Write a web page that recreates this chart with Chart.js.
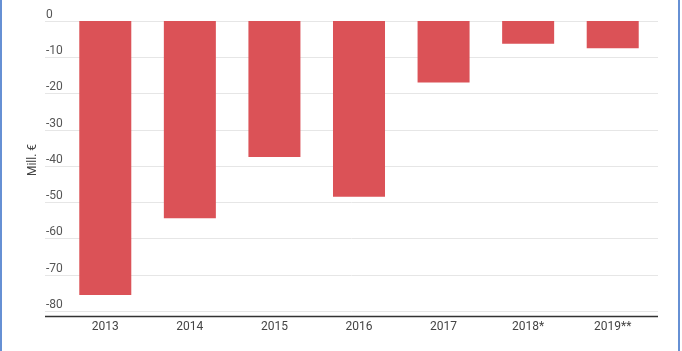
<!DOCTYPE html>
<html>
<head>
<meta charset="utf-8">
<script src="https://cdn.jsdelivr.net/npm/chart.js@4/dist/chart.umd.min.js"></script>
<style>
  html, body { margin: 0; padding: 0; background: #fff; }
  #wrap { position: relative; width: 682px; height: 351px; }
</style>
</head>
<body>
<div id="wrap"><canvas id="cv"></canvas></div>
<script>
// ── Data ─────────────────────────────────────────────
const years  = ['2013', '2014', '2015', '2016', '2017', '2018*', '2019**'];
const values = [-75.6, -54.4, -37.5, -48.5, -17.0, -6.3, -7.5];
const yTicks = [0, -10, -20, -30, -40, -50, -60, -70, -80];
const yTitle = 'Mill. €';

const FONT = 'Roboto, "Noto Sans", sans-serif';
const GRID_L = 45, GRID_R = 658;

// gridlines, y labels, axis line, frame – drawn across the wider grid band
const decor = {
  id: 'decor',
  beforeDatasetsDraw(chart) {
    const { ctx, scales: { y } } = chart;
    ctx.save();
    ctx.strokeStyle = '#e6e6e6';
    ctx.lineWidth = 1;
    ctx.fillStyle = '#555';
    ctx.font = '12px ' + FONT;
    ctx.textAlign = 'left';
    ctx.textBaseline = 'middle';
    yTicks.forEach(v => {
      const py = Math.round(y.getPixelForValue(v)) + 0.5;
      ctx.beginPath(); ctx.moveTo(GRID_L, py); ctx.lineTo(GRID_R, py); ctx.stroke();
      ctx.fillText(String(v), GRID_L + 1, py - 7);
    });
    // y title
    ctx.save();
    ctx.translate(33, 160);
    ctx.rotate(-Math.PI / 2);
    ctx.textAlign = 'center';
    ctx.fillStyle = '#444';
    ctx.font = '12px ' + FONT;
    ctx.fillText(yTitle, 0, 0);
    ctx.restore();
    ctx.restore();
  },
  afterDraw(chart) {
    const { ctx, chartArea: a } = chart;
    ctx.save();
    ctx.strokeStyle = '#333';
    ctx.lineWidth = 1.5;
    ctx.beginPath(); ctx.moveTo(GRID_L, a.bottom + 0.5); ctx.lineTo(GRID_R, a.bottom + 0.5); ctx.stroke();
    // blue frame edges
    ctx.fillStyle = '#6690d4';
    ctx.fillRect(0, 0, 2, chart.height);
    ctx.fillRect(678, 0, 2, chart.height);
    ctx.restore();
  },
};

new Chart(document.getElementById('cv'), {
  type: 'bar',
  data: {
    labels: years,
    datasets: [{
      data: values,
      backgroundColor: '#db5257',
      borderWidth: 0,
      categoryPercentage: 1,
      barPercentage: 0.615,
    }],
  },
  options: {
    responsive: true, maintainAspectRatio: false, animation: false,
    layout: { padding: { left: 63, right: 27, top: 21, bottom: 0 } },
    plugins: { legend: { display: false }, tooltip: { enabled: false } },
    scales: {
      x: {
        grid: { display: false, drawTicks: false },
        border: { display: false },
        ticks: { color: '#444', font: { family: FONT, size: 12 }, padding: 4, maxRotation: 0 },
        afterFit: s => { s.height = 35; },
      },
      y: {
        min: -81.4, max: 0,
        grid: { display: false },
        border: { display: false },
        ticks: { display: false, stepSize: 10 },
        afterFit: s => { s.width = 0; },
      },
    },
  },
  plugins: [decor],
});
</script>
</body>
</html>
